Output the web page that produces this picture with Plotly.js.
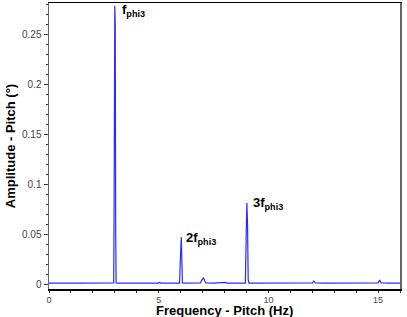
<!DOCTYPE html>
<html><head><meta charset="utf-8">
<script src="https://cdn.plot.ly/plotly-3.0.1.min.js"></script>
<style>html,body{margin:0;padding:0;background:#fff}#c{width:407px;height:317px}</style>
</head><body><div id="c"></div>
<script>
const freq = [0,0.3,0.6,1.0,1.05,1.1,1.5,2.0,2.05,2.1,2.5,2.9,2.95,2.97,2.99,3.0,3.01,3.02,3.04,3.06,3.1,3.5,4.0,4.5,5.0,5.05,5.1,5.5,5.9,5.95,5.98,6.0,6.03,6.06,6.08,6.12,6.5,6.9,7.0,7.05,7.1,7.15,7.5,8.0,8.05,8.1,8.5,8.95,8.99,9.02,9.05,9.08,9.12,9.5,10,10.5,11,11.5,12.0,12.07,12.14,12.5,13,13.5,14,14.5,15.0,15.07,15.14,15.5,16];
const amp  = [0.0008,0.0009,0.0007,0.0008,0.0015,0.0008,0.0009,0.0008,0.0015,0.0008,0.0009,0.0008,0.0012,0.09,0.23,0.278,0.16,0.26,0.05,0.0012,0.0009,0.0008,0.001,0.0009,0.0009,0.0017,0.0008,0.0009,0.0008,0.0009,0.02,0.04,0.047,0.02,0.0012,0.0009,0.001,0.0012,0.005,0.006,0.003,0.0012,0.0009,0.001,0.0017,0.0009,0.0009,0.0009,0.05,0.081,0.06,0.004,0.0009,0.0009,0.0009,0.0008,0.0009,0.0009,0.001,0.003,0.001,0.0008,0.0009,0.0008,0.0009,0.0009,0.0012,0.004,0.0012,0.0008,0.0008];
const peakLabels = [{x:3.22,y:0.274,t:'f<sub>phi3</sub>'},{x:6.17,y:0.046,t:'2f<sub>phi3</sub>'},{x:9.2,y:0.081,t:'3f<sub>phi3</sub>'}];
const xTitle = 'Frequency - Pitch (Hz)';
const yTitle = 'Amplitude - Pitch (°)';

const font = 'Liberation Sans, Arial, sans-serif';
const bold = {size: 13, color: '#000', family: font, weight: 'bold'};
Plotly.newPlot('c', [{
  x: freq, y: amp, type: 'scatter', mode: 'lines',
  line: {color: '#2b2bff', width: 1.2}, hoverinfo: 'none'
}], {
  width: 407, height: 317,
  margin: {l: 49, r: 7, t: 3, b: 28},
  paper_bgcolor: '#fff', plot_bgcolor: '#fff',
  showlegend: false,
  font: {family: font, color: '#333', size: 10},
  xaxis: {
    range: [0, 16], dtick: 5, tick0: 0, ticks: 'outside', ticklen: 2, tickcolor: '#333',
    showgrid: false, zeroline: false, showline: true, linecolor: '#000', linewidth: 1.5, mirror: true,
    minor: {dtick: 1, ticks: 'outside', ticklen: 2, tickcolor: '#333', showgrid: false},
    tickfont: {size: 9, color: '#444'}
  },
  yaxis: {
    range: [-0.005, 0.281], dtick: 0.05, tick0: 0, ticks: 'outside', ticklen: 4, tickcolor: '#333',
    showgrid: false, zeroline: false, showline: true, linecolor: '#666', linewidth: 1.5, mirror: true,
    minor: {dtick: 0.01, ticks: 'outside', ticklen: 2, tickcolor: '#333', showgrid: false},
    tickfont: {size: 10, color: '#444'},
    title: {text: yTitle, font: bold, standoff: 3}
  },
  annotations: peakLabels.map(p => ({
    x: p.x, y: p.y, xref: 'x', yref: 'y', text: p.t, showarrow: false,
    xanchor: 'left', yanchor: 'middle', font: bold
  })).concat([{
    x: 0.5, y: 0, xref: 'paper', yref: 'paper', yshift: -21, text: xTitle, showarrow: false,
    xanchor: 'center', yanchor: 'middle', font: bold, borderpad: 0
  }])
}, {staticPlot: true});
</script></body></html>
